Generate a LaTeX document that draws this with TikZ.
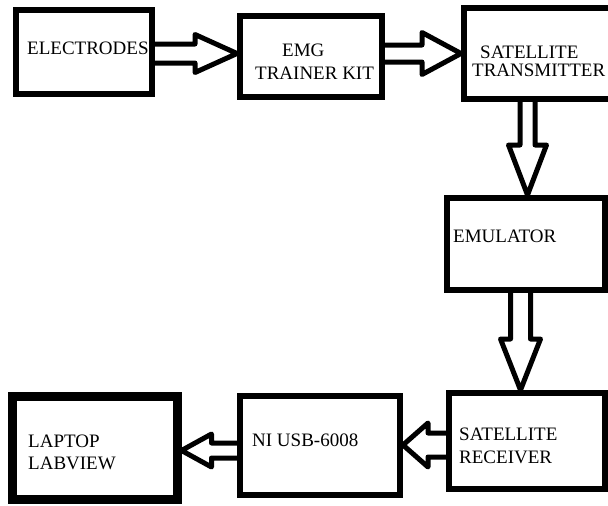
\documentclass[tikz,border=0pt]{standalone}
\usepackage{fontspec}
\setmainfont{Liberation Serif}
\usetikzlibrary{calc}
\tikzset{
  box/.style={draw, rectangle, line width=6pt, inner sep=0pt},
  lbl/.style={anchor=base west, inner sep=0pt, font=\fontsize{19}{19}\selectfont},
  hollow/.style={line width=5pt, line join=round, line cap=round},
}
% hollow block arrow: start, tip, shaft half width, head half width, head length
\newcommand\blockarrow[5]{%
  \coordinate (bab) at ($(#2)!#5!(#1)$);
  \draw[hollow] ($(#1)!#3!90:(#2)$) -- ($(bab)!#3!90:(#2)$)
    -- ($(bab)!#4!90:(#2)$) -- (#2) -- ($(bab)!#4!-90:(#2)$)
    -- ($(bab)!#3!-90:(#2)$) -- ($(#1)!#3!-90:(#2)$);
}
\begin{document}
\begin{tikzpicture}[x=1pt, y=-1pt]
\clip (0,0) rectangle (608,506);
\fill[white] (0,0) rectangle (608,506);

% blocks
\node[box, minimum width=136pt, minimum height=84pt] (ele) at (84,52) {};
\node[box, minimum width=142pt, minimum height=81pt] (emg) at (311,56.5) {};
\node[box, minimum width=156pt, minimum height=91pt] (tx)  at (542,53.5) {};
\node[box, minimum width=158pt, minimum height=92pt] (emu) at (526,244) {};
\node[box, minimum width=156pt, minimum height=96pt] (rx)  at (527,441) {};
\node[box, minimum width=160pt, minimum height=99pt] (ni)  at (320,445.5) {};
\node[box, line width=9pt, minimum width=165pt, minimum height=103pt] (lap) at (94.5,447.5) {};

% block texts
\node[lbl] (t-ele)  at (27,54)  {ELECTRODES};
\node[lbl] (t-emg1) at (282,56) {EMG};
\node[lbl] (t-emg2) at (255,79) {TRAINER KIT};
\node[lbl] (t-tx1)  at (480,58) {SATELLITE};
\node[lbl] (t-tx2)  at (472,76) {TRANSMITTER};
\node[lbl] (t-emu)  at (453,242) {EMULATOR};
\node[lbl] (t-rx1)  at (459,440) {SATELLITE};
\node[lbl] (t-rx2)  at (459,463) {RECEIVER};
\node[lbl] (t-ni)   at (252,446) {NI USB-6008};
\node[lbl] (t-lap1) at (28,447) {LAPTOP};
\node[lbl] (t-lap2) at (28,469) {LABVIEW};

% arrow end points on the block borders
\coordinate (a1s) at (ele.east |- 0,53.5);
\coordinate (a1t) at (emg.west |- 0,53.5);
\coordinate (a2s) at (emg.east |- 0,53.5);
\coordinate (a2t) at (tx.west |- 0,53.5);
\coordinate (a3s) at (tx.south -| 527.5,0);
\coordinate (a3t) at (emu.north -| 527.5,0);
\coordinate (a4s) at (emu.south -| 520.5,0);
\coordinate (a4t) at (rx.north -| 520.5,0);
\coordinate (a5s) at (rx.west |- 0,445);
\coordinate (a5t) at (ni.east |- 0,445);
\coordinate (a6s) at (ni.west |- 0,450.5);
\coordinate (a6t) at (lap.east |- 0,450.5);

% signal flow
\blockarrow{a1s}{a1t}{9.5pt}{19pt}{42pt}
\blockarrow{a2s}{a2t}{8.5pt}{21pt}{39pt}
\blockarrow{a3s}{a3t}{7.5pt}{19pt}{50pt}
\blockarrow{a4s}{a4t}{10pt}{20pt}{51pt}
\blockarrow{a5s}{a5t}{12pt}{22pt}{25pt}
\blockarrow{a6s}{a6t}{7.5pt}{16.5pt}{30pt}
\end{tikzpicture}
\end{document}
